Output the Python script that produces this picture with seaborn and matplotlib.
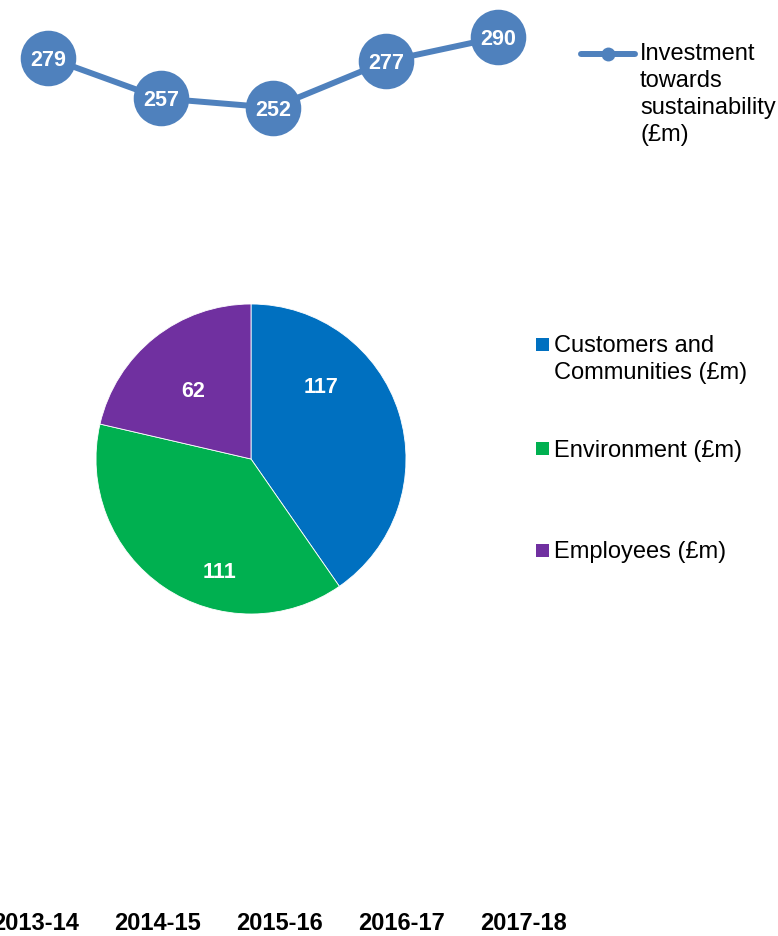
import numpy as np
import pandas as pd
import matplotlib
matplotlib.use("Agg")
import matplotlib.pyplot as plt
from matplotlib.lines import Line2D
from matplotlib.patches import Rectangle
import seaborn as sns

# Annual investment series
years = ["2013-14", "2014-15", "2015-16", "2016-17", "2017-18"]
investment = [279, 257, 252, 277, 290]
series_name = "Investment\ntowards\nsustainability\n(£m)"

# Breakdown of the latest year
pie_labels = ["Customers and\nCommunities (£m)", "Environment (£m)", "Employees (£m)"]
pie_values = [117, 111, 62]

line_color = "#4F81BD"
pie_colors = ["#0070C0", "#00B050", "#7030A0"]

sns.set_theme(style="white")
plt.rcParams["font.family"] = ["Liberation Sans", "DejaVu Sans"]

W, H = 778, 936
LINE_STEP = 26.8  # pixel distance between text lines at 17 pt
fig = plt.figure(figsize=(W / 100, H / 100), dpi=100)
fig.patch.set_facecolor("white")


def fx(px):
    return px / W


def fy(py):
    return 1 - py / H


def multiline_text(x_px, first_baseline_px, text, **kw):
    # anchor on the baseline of the last line so the first line lands where wanted
    n = text.count("\n")
    fig.text(fx(x_px), fy(first_baseline_px + n * LINE_STEP), text,
             va="baseline", ha="left", linespacing=1.3, **kw)


# ---- line chart ----------------------------------------------------------
ax_line = fig.add_axes([0, fy(200), 1, 200 / H])
ax_line.patch.set_visible(False)
df = pd.DataFrame({"pos": np.arange(len(years)), "investment": investment})
sns.lineplot(data=df, x="pos", y="investment", ax=ax_line, color=line_color,
             linewidth=4.3, marker="o", markersize=40, markeredgewidth=0,
             sort=False)
for i, v in enumerate(investment):
    ax_line.text(i, v, str(v), ha="center", va="center_baseline",
                 color="white", fontsize=15.5, fontweight="bold")
ax_line.set_xlim(-0.4291, 6.4834)
ax_line.set_ylim(202.24, 310.05)
ax_line.axis("off")

# legend for the line series
fig.add_artist(Line2D([fx(581), fx(635)], [fy(54), fy(54)], color=line_color,
                      lw=4.3, solid_capstyle="round"))
fig.add_artist(Line2D([fx(608)], [fy(54)], marker="o", markersize=10,
                      color=line_color, markeredgewidth=0, linestyle="none"))
multiline_text(640, 60.7, series_name, fontsize=17, color="black")

# ---- pie chart -----------------------------------------------------------
ax_pie = fig.add_axes([fx(96), fy(614), 310 / W, 310 / H])
wedges, _ = ax_pie.pie(pie_values, colors=pie_colors, startangle=90,
                       counterclock=False,
                       wedgeprops=dict(edgecolor="white", linewidth=0.6))
ax_pie.set_xlim(-1, 1)
ax_pie.set_ylim(-1, 1)
ax_pie.set_aspect("equal")
label_offsets = [(0.453, 0.479), (-0.202, -0.716), (-0.376, 0.452)]
for (lx, ly), v in zip(label_offsets, pie_values):
    ax_pie.text(lx, ly, str(v), ha="center", va="center_baseline",
                color="white", fontsize=15.5, fontweight="bold")

# legend for the pie slices
legend_baselines = [352, 456.7, 558.3]
for lab, col, yb in zip(pie_labels, pie_colors, legend_baselines):
    fig.add_artist(Rectangle((fx(536), fy(yb - 1.5)), 13 / W, 13 / H,
                             transform=fig.transFigure, facecolor=col,
                             edgecolor="none"))
    multiline_text(554, yb, lab, fontsize=17, color="black")

# ---- category labels -----------------------------------------------------
ax_x = fig.add_axes([0, fy(912.5), 1, 0.01])
ax_x.patch.set_visible(False)
ax_x.set_xlim(-0.2953, 6.087)
ax_x.set_xticks(np.arange(len(years)))
ax_x.set_xticklabels(years, fontsize=17, fontweight="bold", color="black")
ax_x.set_yticks([])
ax_x.tick_params(axis="x", length=0, pad=0)
for s in ax_x.spines.values():
    s.set_visible(False)

fig.savefig("out.png", dpi=100)
